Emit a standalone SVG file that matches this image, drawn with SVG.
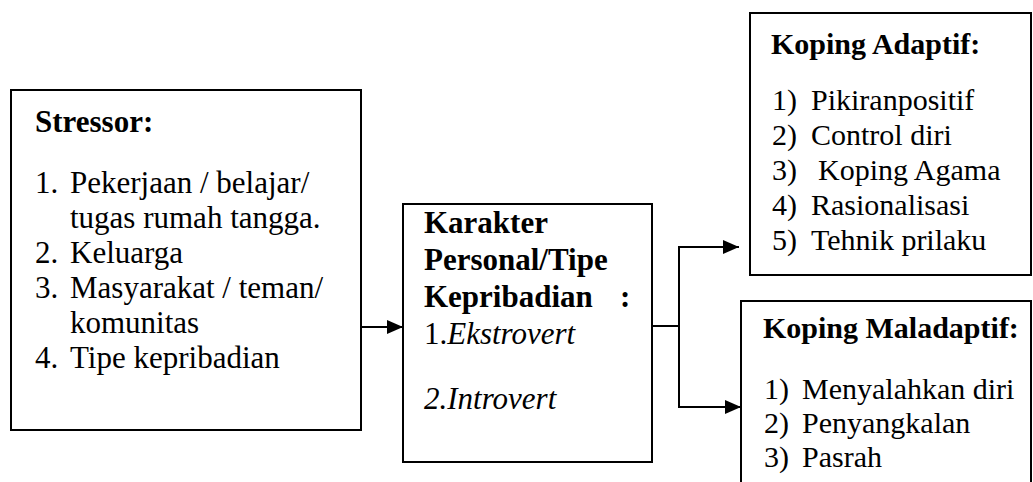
<svg xmlns="http://www.w3.org/2000/svg" width="1033" height="482" viewBox="0 0 1033 482">
<style>
.box{fill:#fff;stroke:#000;stroke-width:2}
text{font-family:"Liberation Serif","Times New Roman",serif;font-size:30px;fill:#000}
.l{font-size:31px}
.b{font-weight:bold}
.i{font-style:italic}
.ln{fill:none;stroke:#000;stroke-width:2}
</style>
<defs>
<marker id="arr" viewBox="0 0 16 14" refX="16" refY="7" markerWidth="16" markerHeight="14" markerUnits="userSpaceOnUse" orient="auto">
<path d="M0,0 L16,7 L0,14 Z" fill="#000"/>
</marker>
</defs>
<rect width="1033" height="482" fill="#fff"/>
<g id="connectors">
<line class="ln" x1="361" y1="327" x2="403" y2="327" marker-end="url(#arr)"/>
<polyline class="ln" points="652,326 679,326"/>
<polyline class="ln" points="679,326 679,247 739,247" marker-end="url(#arr)"/>
<polyline class="ln" points="679,326 679,407 741,407" marker-end="url(#arr)"/>
</g>
<g id="stressor">
<rect class="box" x="11" y="90" width="350" height="340"/>
<text class="b l" x="35" y="132">Stressor:</text>
<text class="l" x="35" y="193">1.</text><text class="l" x="70" y="193">Pekerjaan / belajar/</text>
<text class="l" x="70" y="228">tugas rumah tangga.</text>
<text class="l" x="35" y="263">2.</text><text class="l" x="70" y="263">Keluarga</text>
<text class="l" x="35" y="298">3.</text><text class="l" x="70" y="298">Masyarakat / teman/</text>
<text class="l" x="70" y="333">komunitas</text>
<text class="l" x="35" y="368">4.</text><text class="l" x="70" y="368">Tipe kepribadian</text>
</g>
<g id="karakter">
<rect class="box" x="403" y="204" width="249" height="258"/>
<text class="b l" x="424" y="233">Karakter</text>
<text class="b l" x="424" y="270">Personal/Tipe</text>
<text class="b l" x="424" y="307">Kepribadian</text>
<text class="b l" x="620" y="307">:</text>
<text class="l" x="424" y="344">1.<tspan class="i">Ekstrovert</tspan></text>
<text class="i l" x="424" y="409">2.Introvert</text>
</g>
<g id="adaptif">
<rect class="box" x="750" y="13" width="281" height="262"/>
<text class="b" x="771" y="54">Koping Adaptif:</text>
<text x="772" y="110">1)</text><text x="811" y="110">Pikiranpositif</text>
<text x="772" y="145">2)</text><text x="811" y="145">Control diri</text>
<text x="772" y="180">3)</text><text x="818" y="180">Koping Agama</text>
<text x="772" y="215">4)</text><text x="811" y="215">Rasionalisasi</text>
<text x="772" y="250">5)</text><text x="811" y="250">Tehnik prilaku</text>
</g>
<g id="maladaptif">
<path class="ln" d="M741,483 L741,301 L1031,301 L1031,483"/>
<text class="b" x="763" y="338">Koping Maladaptif:</text>
<text x="764" y="399">1)</text><text x="802" y="399">Menyalahkan diri</text>
<text x="764" y="433">2)</text><text x="802" y="433">Penyangkalan</text>
<text x="764" y="467">3)</text><text x="802" y="467">Pasrah</text>
</g>
</svg>
